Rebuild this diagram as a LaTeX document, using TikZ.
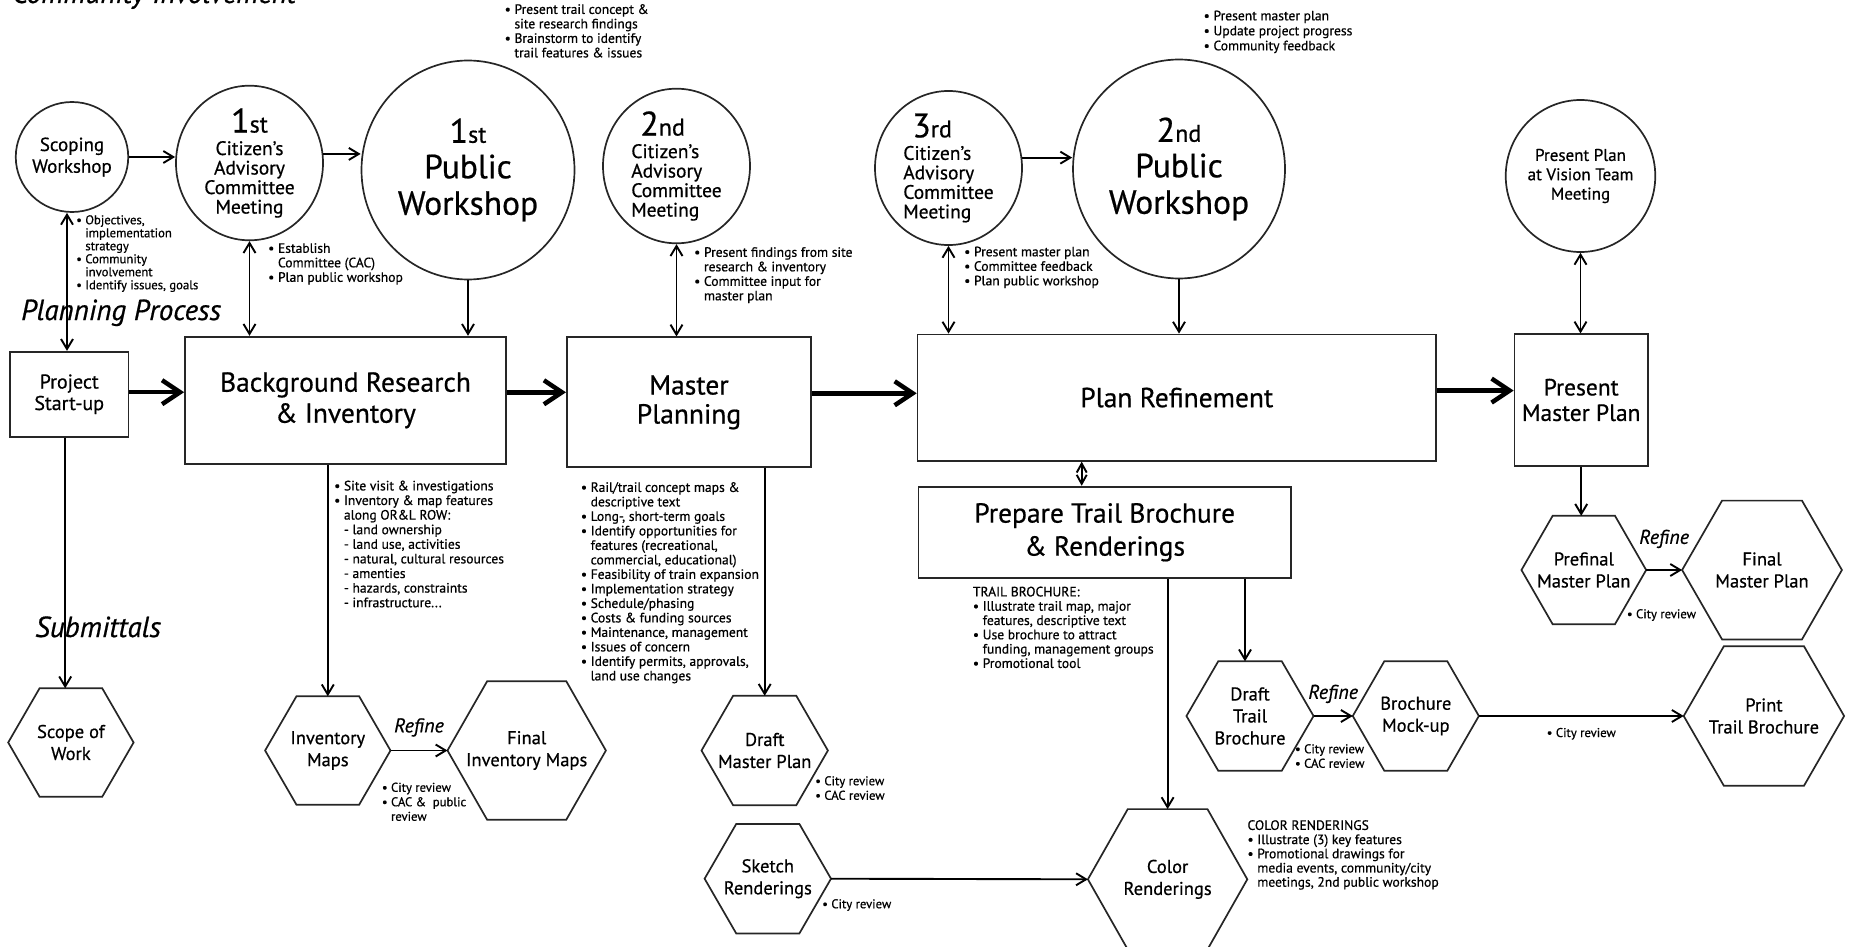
\documentclass[tikz,border=0pt]{standalone}
\usepackage{fontspec}
\setmainfont{PT Sans}[FakeBold=0.6]
\usetikzlibrary{shapes.geometric,arrows.meta,calc,positioning}

\newcommand{\bu}{\textbullet\ }
\newcommand{\ind}{\hphantom{\textbullet\ }}
\newcommand{\ordnum}[2]{{\fontsize{34}{34}\selectfont #1}{\fontsize{24}{24}\selectfont #2}}

\tikzset{
  outline/.style={draw=black!85,line width=1.7pt},
  bubble/.style n args={2}{ellipse,outline,minimum width=#1,minimum height=#2,inner sep=0pt,align=center,font=\fontsize{19.5}{19.5}\selectfont},
  stage/.style n args={2}{rectangle,outline,minimum width=#1,minimum height=#2,inner sep=0pt,align=center,font=\fontsize{27.5}{31}\selectfont},
  hexbox/.style n args={2}{minimum width=#1,minimum height=#2,inner sep=0pt,align=center,font=\fontsize{18.5}{22}\selectfont},
  note/.style={anchor=north west,inner sep=0pt,align=left,font=\fontsize{13.6}{14.5}\selectfont},
  small note/.style={note,font=\fontsize{12.7}{14.5}\selectfont},
  head/.style={anchor=base west,inner sep=0pt,font=\fontsize{29}{32}\selectfont\itshape},
  refine/.style={inner sep=1pt,font=\fontsize{20}{22}\selectfont\itshape},
  link/.style={line width=1.9pt,-{Straight Barb[length=10pt,width=12pt]}},
  both/.style={line width=1.9pt,{Straight Barb[length=10pt,width=12pt]}-{Straight Barb[length=10pt,width=12pt]}},
  short both/.style={line width=1.9pt,{Straight Barb[length=9pt,width=10pt]}-{Straight Barb[length=9pt,width=10pt]}},
  flow/.style={line width=4.5pt,-{Straight Barb[length=18pt,width=24pt]}},
}

\begin{document}
\begin{tikzpicture}[x=1pt,y=-1pt]
\useasboundingbox (0,0) rectangle (1849,947);

% headings
\node[head] (ci) at (12,3) {Community Involvement};
\node[head] (pp) at (21,320) {Planning Process};
\node[head] (sub) at (35,637) {Submittals};

% community involvement
\node[bubble={107pt}{110pt},font=\fontsize{19}{21.7}\selectfont] (scw) at (72,157) {Scoping\\Workshop};
\node[bubble={147pt}{148pt}] (cac1) at (249.5,163) {\ordnum{1}{st}\\[3pt]Citizen's\\Advisory\\Committee\\Meeting};
\node[bubble={213pt}{219pt},font=\fontsize{33.5}{36.5}\selectfont] (pw1) at (468,170) {\ordnum{1}{st}\\[-1pt]Public\\Workshop};
\node[bubble={147pt}{152pt},align=left] (cac2) at (676.5,166) {\hspace*{9pt}\ordnum{2}{nd}\\[3pt]Citizen's\\Advisory\\Committee\\Meeting};
\node[bubble={147pt}{150pt},align=left] (cac3) at (948.5,168) {\hspace*{9pt}\ordnum{3}{rd}\\[3pt]Citizen's\\Advisory\\Committee\\Meeting};
\node[bubble={212pt}{219pt},font=\fontsize{33.5}{36.5}\selectfont] (pw2) at (1179,169) {\ordnum{2}{nd}\\[-1pt]Public\\Workshop};
\node[bubble={148pt}{152pt},font=\fontsize{17}{19.3}\selectfont] (vis) at (1580.5,176) {Present Plan\\at Vision Team\\Meeting};

% planning process
\node[stage={118.5pt}{85pt},font=\fontsize{20}{21.5}\selectfont] (psu) at (69.2,394.2) {Project\\Start-up};
\node[stage={321pt}{127.3pt}] (br) at (345.5,400.3) {Background Research\\\& Inventory};
\node[stage={244.4pt}{130pt},font=\fontsize{27.5}{29}\selectfont] (mp) at (689,402.3) {Master\\Planning};
\node[stage={518.5pt}{126.3pt}] (pr) at (1176.8,397.6) {Plan Refinement};
\node[stage={133.4pt}{131.4pt},font=\fontsize{23.5}{25.5}\selectfont] (pmp) at (1581.2,400) {Present\\Master Plan};
\node[stage={372.5pt}{91.3pt},font=\fontsize{27.5}{33}\selectfont] (ptb) at (1104.7,532.3) {Prepare Trail Brochure\\\& Renderings};

% submittals
\node[hexbox={125pt}{108pt}] (sow) at (70.9,742.5) {Scope of\\Work};
\node[hexbox={125pt}{108pt}] (invm) at (327.8,750.5) {Inventory\\Maps};
\node[hexbox={158pt}{138pt}] (finv) at (526.7,750.5) {Final\\Inventory Maps};
\node[hexbox={126pt}{109pt}] (dmp) at (764.7,750.5) {Draft\\Master Plan};
\node[hexbox={126pt}{109pt}] (skr) at (767.8,878.7) {Sketch\\Renderings};
\node[hexbox={159pt}{140pt}] (colr) at (1167.6,879.3) {Color\\Renderings};
\node[hexbox={126.7pt}{109pt}] (dtb) at (1250,716) {Draft\\Trail\\Brochure};
\node[hexbox={125.7pt}{109pt}] (mock) at (1415.8,716) {Brochure\\Mock-up};
\node[hexbox={160pt}{139pt}] (prt) at (1763.9,716) {Print\\Trail Brochure};
\node[hexbox={124.3pt}{108pt}] (pref) at (1583.8,570) {Prefinal\\Master Plan};
\node[hexbox={159.4pt}{138.4pt}] (fmp) at (1762,570) {Final\\Master Plan};

\foreach \h in {sow,invm,finv,dmp,skr,colr,dtb,mock,prt,pref,fmp}
  \draw[outline] (\h.west) -- ($(\h.north west)!0.25!(\h.north east)$) -- ($(\h.north west)!0.75!(\h.north east)$)
    -- (\h.east) -- ($(\h.south west)!0.75!(\h.south east)$) -- ($(\h.south west)!0.25!(\h.south east)$) -- cycle;

% notes
\node[note] (n1) at (504.5,4) {\bu Present trail concept \&\\\ind site research findings\\\bu Brainstorm to identify\\\ind trail features \& issues};
\node[note,font=\fontsize{13.6}{15}\selectfont] (n2) at (1203.5,10.5) {\bu Present master plan\\\bu Update project progress\\\bu Community feedback};
\node[small note,font=\fontsize{12.7}{13}\selectfont] (n3) at (76,215) {\bu Objectives,\\\ind implementation\\\ind strategy\\\bu Community\\\ind involvement\\\bu Identify issues, goals};
\node[note] (n4) at (268,243) {\bu Establish\\\ind Committee (CAC)\\\bu Plan public workshop};
\node[note] (n5) at (694,247) {\bu Present findings from site\\\ind research \& inventory\\\bu Committee input for\\\ind master plan};
\node[note] (n6) at (964,246.5) {\bu Present master plan\\\bu Committee feedback\\\bu Plan public workshop};
\node[note,font=\fontsize{13.6}{14.6}\selectfont] (n7) at (334,480.5) {\bu Site visit \& investigations\\\bu Inventory \& map features\\\ind along OR\&L ROW:\\\ind- land ownership\\\ind- land use, activities\\\ind- natural, cultural resources\\\ind- amenties\\\ind- hazards, constraints\\\ind- infrastructure...};
\node[note] (n8) at (580.7,482) {\bu Rail/trail concept maps \&\\\ind descriptive text\\\bu Long-, short-term goals\\\bu Identify opportunities for\\\ind features (recreational,\\\ind commercial, educational)\\\bu Feasibility of train expansion\\\bu Implementation strategy\\\bu Schedule/phasing\\\bu Costs \& funding sources\\\bu Maintenance, management\\\bu Issues of concern\\\bu Identify permits, approvals,\\\ind land use changes};
\node[note,font=\fontsize{13.6}{14.3}\selectfont] (n9) at (972.7,586.5) {TRAIL BROCHURE:\\\bu Illustrate trail map, major\\\ind features, descriptive text\\\bu Use brochure to attract\\\ind funding, management groups\\\bu Promotional tool};
\node[note,font=\fontsize{13.6}{14.2}\selectfont] (n10) at (1247.3,820) {COLOR RENDERINGS\\\bu Illustrate (3) key features\\\bu Promotional drawings for\\\ind media events, community/city\\\ind meetings, 2nd public workshop};
\node[small note] (n11) at (381.7,782.5) {\bu City review\\\bu CAC \& \ public\\\ind review};
\node[small note] (n12) at (815,776) {\bu City review\\\bu CAC review};
\node[small note] (n13) at (822,899) {\bu City review};
\node[small note] (n14) at (1294.8,744) {\bu City review\\\bu CAC review};
\node[small note] (n15) at (1626.7,609) {\bu City review};

% community links
\draw[link] (scw.east) -- (scw.east -| cac1.west);
\draw[link] (cac1.7) -- (cac1.7 -| pw1.west);
\draw[link] (cac3.8) -- (cac3.8 -| pw2.west);
\draw[both] ([xshift=-5pt]scw.south) -- ([xshift=-5pt]scw.south |- psu.north);
\draw[both] (cac1.south) -- (cac1.south |- br.north);
\draw[link] (pw1.south) -- (pw1.south |- br.north);
\draw[both] (cac2.south) -- (cac2.south |- mp.north);
\draw[both] (cac3.south) -- (cac3.south |- pr.north);
\draw[link] (pw2.south) -- (pw2.south |- pr.north);
\draw[both] (vis.south) -- (vis.south |- pmp.north);

% process flow
\draw[flow] ([yshift=2pt]psu.east) -- ([yshift=2pt]psu.east -| br.west);
\draw[flow] ([yshift=8pt]br.east) -- ([yshift=8pt]br.east -| mp.west);
\draw[flow] ([yshift=9pt]mp.east) -- ([yshift=9pt]mp.east -| pr.west);
\draw[flow] ([yshift=7pt]pr.east) -- ([yshift=7pt]pr.east -| pmp.west);
\draw[short both] ([xshift=-23pt]ptb.north) -- ([xshift=-23pt]ptb.north |- pr.south);

% submittal links
\draw[link] ([xshift=-4pt]psu.south) -- ([xshift=-4pt]psu.south |- sow.north);
\draw[link] (invm.north |- br.south) -- (invm.north);
\draw[link] (dmp.north |- mp.south) -- (dmp.north);
\draw[link] (colr.north |- ptb.south) -- (colr.north);
\draw[link] ([xshift=-5pt]dtb.north |- ptb.south) -- ([xshift=-5pt]dtb.north);
\draw[link] (pmp.south) -- (pmp.south |- pref.north);
\draw[link] (invm.east) -- (finv.west) node[refine,midway,above=12pt] (rf1) {Refine};
\draw[link] (dtb.east) -- (mock.west) node[refine,midway,above=11pt] (rf2) {Refine};
\draw[link] (pref.east) -- (fmp.west) node[refine,midway,above=20pt] (rf3) {Refine};
\draw[link] (mock.east) -- (prt.west) node[small note,midway,below=11pt] (crv) {\bu City review};
\draw[link] (skr.east) -- (colr.west);
\end{tikzpicture}
\end{document}
